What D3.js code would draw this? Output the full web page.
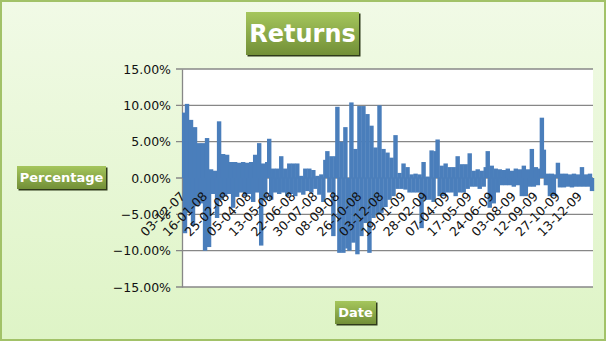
<!DOCTYPE html>
<html>
<head>
<meta charset="utf-8">
<script src="https://cdn.jsdelivr.net/npm/d3@7"></script>
<style>
  html, body { margin: 0; padding: 0; background: #fff; }
  svg { display: block; font-family: "DejaVu Sans", sans-serif; }
</style>
</head>
<body>
<svg id="chart" width="606" height="341"></svg>
<script>
// daily returns in percent (one bar per value)
var returns = [
  9.0, -7.6, 10.2, -4.8, 8.0, -6.6, 7.0, -3.9, 4.8, -3.5,
  4.8, -10.0, 5.5, -9.5, 1.2, -2.2, 1.0, -5.5, 7.8, -3.0,
  3.3, -2.5, 3.2, -2.2, 2.2, -4.1, 2.2, -2.6, 2.1, -2.0,
  2.2, -2.5, 2.1, -2.2, 2.2, -3.3, 3.2, -2.0, 4.8, -9.3,
  2.0, -3.0, 2.2, 5.4, -3.0, 1.3, -2.0, 1.3, -2.2, 3.0,
  -2.0, 1.3, -2.5, 2.0, -2.2, 2.0, -2.5, 2.0, -2.0, 0.3,
  -2.3, 1.3, -1.8, 1.3, -2.0, 1.1, -1.5, 0.3, -2.3, 0.5,
  -3.3, 2.5, 3.7, -2.0, 3.0, -8.0, 3.0, 9.8, -10.3, 5.0,
  -10.3, 7.0, -9.7, -10.0, 10.4, -8.9, 4.0, -10.5, 9.9, -8.0,
  9.9, -6.2, 8.8, -10.3, 7.2, -5.5, 4.2, -5.0, 10.0, -4.8,
  4.0, -4.0, 3.5, -3.0, 2.8, -2.5, 5.9, -1.5, 0.7, -1.5,
  2.0, -1.6, 1.5, -2.0, 0.5, -2.0, 0.6, -2.0, 0.5, -6.9,
  2.2, -3.0, 0.2, -3.0, 3.8, -3.3, 3.7, 5.3, -2.5, 1.7,
  -2.5, 2.0, -2.0, 1.5, -2.0, 1.5, -2.5, 3.0, -2.0, 1.9,
  -2.0, 1.9, -1.5, 3.4, -1.2, 1.0, -1.2, 1.2, -1.5, 1.0,
  -1.2, 1.5, 3.7, -4.1, 1.7, -3.5, 1.3, -2.0, 1.2, -1.0,
  1.1, -1.0, 1.3, -1.0, 1.0, -1.2, 1.3, -1.0, 1.2, -2.5,
  1.7, -2.5, 1.2, -1.2, 4.0, -1.2, 1.5, -1.0, 1.3, 8.3,
  3.9, -1.0, 0.6, -2.5, 0.6, -2.5, 0.5, 2.1, -1.3, 0.6,
  -1.3, 0.6, -1.2, 0.5, -1.3, 0.6, -1.2, 0.5, -1.2, 1.5,
  -1.2, 0.5, -1.2, 0.6, -1.8
];

// a label is shown on every 11th category
var labelStep = 11;
var tickLabels = [
  "03-12-07", "16-01-08", "25-02-08", "05-04-08", "13-05-08",
  "22-06-08", "30-07-08", "08-09-08", "26-10-08", "03-12-08",
  "19-01-09", "28-02-09", "07-04-09", "17-05-09", "24-06-09",
  "03-08-09", "12-09-09", "27-10-09", "13-12-09"
];
var yTicks = [-15, -10, -5, 0, 5, 10, 15];

var categories = returns.map(function(d, i) { return i; });

var svg = d3.select("#chart");
var defs = svg.append("defs");

var bg = defs.append("linearGradient").attr("id", "bg")
    .attr("x1", 0).attr("y1", 0).attr("x2", 0).attr("y2", 1);
bg.append("stop").attr("offset", "0%").attr("stop-color", "#f1fae6");
bg.append("stop").attr("offset", "100%").attr("stop-color", "#def4c6");

var box = defs.append("linearGradient").attr("id", "box")
    .attr("x1", 0).attr("y1", 0).attr("x2", 0).attr("y2", 1);
box.append("stop").attr("offset", "0%").attr("stop-color", "#a5c65c");
box.append("stop").attr("offset", "100%").attr("stop-color", "#728f37");

svg.append("rect")
    .attr("x", 1).attr("y", 1).attr("width", 604).attr("height", 339)
    .attr("fill", "url(#bg)")
    .attr("stroke", "#a2c268").attr("stroke-width", 2);

var plotLeft = 182, plotRight = 593, plotTop = 69, plotBottom = 287;

var x = d3.scaleBand().domain(categories).range([plotLeft, plotRight]).padding(0);
var y = d3.scaleLinear().domain([-15, 15]).range([plotBottom, plotTop]);

svg.append("rect")
    .attr("x", plotLeft).attr("y", plotTop)
    .attr("width", plotRight - plotLeft).attr("height", plotBottom - plotTop)
    .attr("fill", "#ffffff");

// gridlines
svg.append("g").selectAll("line")
    .data(yTicks)
    .enter().append("line")
    .attr("x1", plotLeft - 6).attr("x2", plotRight)
    .attr("y1", function(d) { return y(d); })
    .attr("y2", function(d) { return y(d); })
    .attr("stroke", "#878787").attr("stroke-width", 1.3);

// y axis
var yAxis = d3.axisLeft(y)
    .tickValues(yTicks)
    .tickSize(0)
    .tickPadding(11)
    .tickFormat(function(d) { return d3.format(".2f")(d) + "%"; });

var gy = svg.append("g")
    .attr("transform", "translate(" + plotLeft + ",0)")
    .call(yAxis);
gy.select(".domain").attr("stroke", "#878787").attr("stroke-width", 1.3);
gy.selectAll("text")
    .attr("fill", "#111")
    .style("font-size", "12.5px")
    .style("font-family", "DejaVu Sans");

// bars: the real chart packs ~500 days in, so they touch; widen ours to match
var barW = x.bandwidth() * 2 + 0.4;
svg.append("g").selectAll("rect")
    .data(returns)
    .enter().append("rect")
    .attr("x", function(d, i) {
        return Math.max(plotLeft, x(i) + x.bandwidth() / 2 - barW / 2);
    })
    .attr("width", barW)
    .attr("y", function(d) { return y(Math.max(0, d)); })
    .attr("height", function(d) { return Math.abs(y(d) - y(0)); })
    .attr("fill", "#4a7ebb");

// x axis labels at the zero line
var labelData = tickLabels.map(function(t, k) { return { label: t, idx: k * labelStep }; });

svg.append("g").selectAll("text")
    .data(labelData)
    .enter().append("text")
    .attr("transform", function(d) {
        var cx = x(d.idx) + x.bandwidth() / 2 + 3;
        return "translate(" + cx + "," + (y(0) + 19) + ") rotate(-45)";
    })
    .attr("text-anchor", "end")
    .attr("fill", "#111")
    .style("font-size", "12.5px")
    .text(function(d) { return d.label; });

// green label boxes
function labelBox(bx, by, bw, bh, txt, size) {
    var g = svg.append("g");
    g.append("rect")
        .attr("x", bx + 1.5).attr("y", by + 1.5)
        .attr("width", bw).attr("height", bh)
        .attr("fill", "#2f3a1a");
    g.append("rect")
        .attr("x", bx).attr("y", by)
        .attr("width", bw).attr("height", bh)
        .attr("fill", "url(#box)");
    g.append("text")
        .attr("x", bx + bw / 2).attr("y", by + bh / 2)
        .attr("dy", "0.36em")
        .attr("text-anchor", "middle")
        .attr("fill", "#ffffff")
        .style("font-weight", "bold")
        .style("font-size", size + "px")
        .text(txt);
}

labelBox(246, 12, 113, 43, "Returns", 24);
labelBox(17, 166, 89, 23, "Percentage", 13);
labelBox(335, 301, 41, 23, "Date", 13);
</script>
</body>
</html>
